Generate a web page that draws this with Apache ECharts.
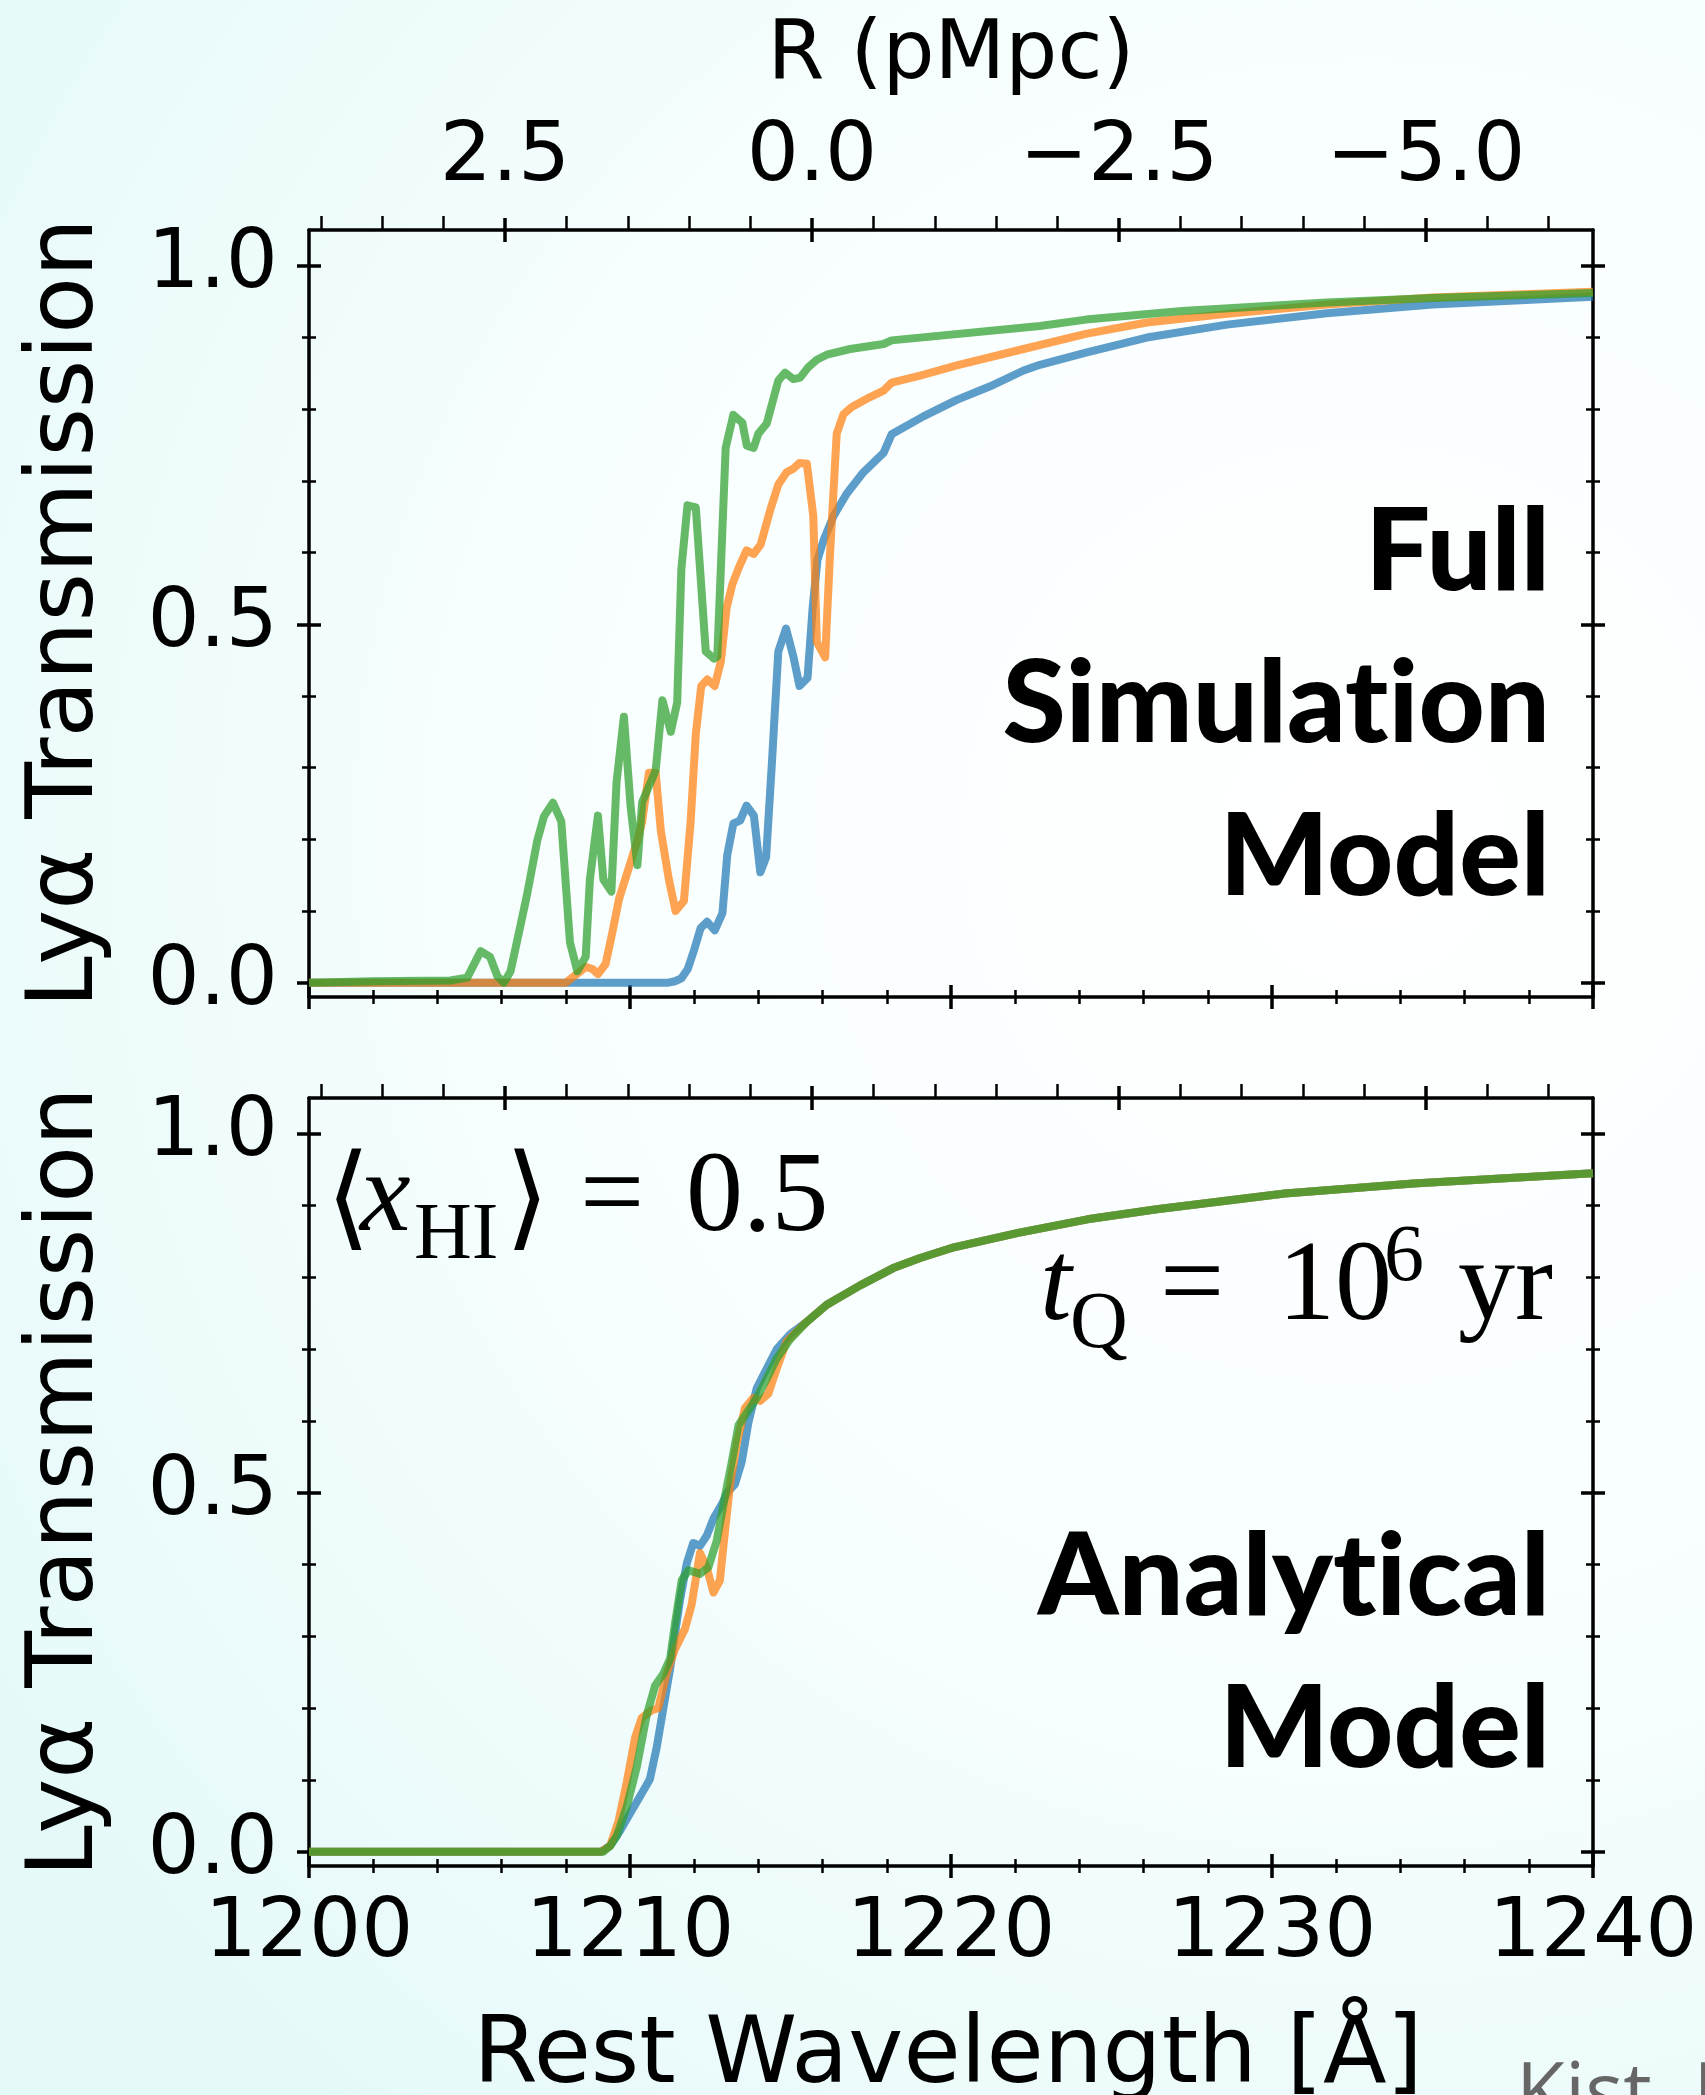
<!DOCTYPE html>
<html><head><meta charset="utf-8">
<script src="https://cdn.jsdelivr.net/npm/echarts@6/dist/echarts.min.js"></script>
<style>html,body{margin:0;padding:0;background:#fff}#c{width:1705px;height:2095px}</style>
</head><body><div id="c"></div>
<script>
// ---------------- DATA ----------------
const LYA_REST = 1215.67;        // Angstrom
const ANG_PER_PMPC = 3.825;      // Angstrom per pMpc (top axis conversion)

const lamTicks = [1200, 1210, 1220, 1230, 1240];
const lamMinor = [1202,1204,1206,1208,1212,1214,1216,1218,1222,1224,1226,1228,1232,1234,1236,1238];
const rTicks = [2.5, 0, -2.5, -5];
const rMinor = [4,3.5,3,2,1.5,1,0.5,-0.5,-1,-1.5,-2,-3,-3.5,-4,-4.5,-5.5,-6];
const tTicks = [0, 0.5, 1];
const tMinor = [0.1,0.2,0.3,0.4,0.6,0.7,0.8,0.9];

// Full simulation model (top panel)
const simBlueWl = [1200,1211.2,1211.4,1211.6,1211.8,1212.0,1212.2,1212.4,1212.64,1212.88,1213.03,1213.22,1213.43,1213.63,1213.86,1214.06,1214.24,1214.42,1214.62,1214.86,1215.09,1215.28,1215.53,1215.69,1215.84,1216.03,1216.34,1216.75,1217.27,1217.9,1218.15,1219.14,1220.18,1221.22,1222.26,1222.77,1224.2,1226.1,1228.6,1231.7,1235.0,1240];
const simBlueT  = [0,0,0.002,0.006,0.019,0.046,0.076,0.085,0.073,0.097,0.178,0.222,0.226,0.247,0.233,0.154,0.175,0.306,0.462,0.494,0.455,0.414,0.425,0.523,0.590,0.617,0.651,0.682,0.712,0.739,0.765,0.790,0.813,0.832,0.854,0.862,0.879,0.900,0.918,0.934,0.946,0.957];

const simOrangeWl = [1200,1208.0,1208.26,1208.62,1208.83,1209.0,1209.24,1209.45,1209.66,1209.92,1210.23,1210.38,1210.59,1210.80,1210.96,1211.21,1211.42,1211.68,1211.89,1212.05,1212.22,1212.41,1212.64,1212.83,1213.01,1213.19,1213.40,1213.63,1213.85,1214.07,1214.36,1214.62,1214.88,1215.09,1215.28,1215.51,1215.71,1215.82,1216.08,1216.23,1216.44,1216.65,1216.91,1217.48,1217.9,1218.15,1219.04,1220.18,1222.26,1224.2,1226.1,1228.6,1231.7,1235.0,1240];
const simOrangeT  = [0,0,0.009,0.022,0.019,0.012,0.026,0.070,0.117,0.154,0.198,0.225,0.293,0.293,0.212,0.144,0.100,0.114,0.225,0.347,0.414,0.423,0.414,0.448,0.523,0.556,0.580,0.603,0.598,0.611,0.658,0.695,0.712,0.717,0.725,0.724,0.651,0.475,0.454,0.597,0.766,0.793,0.803,0.817,0.826,0.837,0.847,0.861,0.884,0.905,0.921,0.933,0.946,0.956,0.964];

const simGreenWl = [1200,1202,1204.4,1204.93,1205.35,1205.64,1205.87,1206.07,1206.28,1206.54,1206.78,1207.11,1207.32,1207.60,1207.86,1208.13,1208.36,1208.62,1208.75,1209.0,1209.17,1209.42,1209.58,1209.81,1210.02,1210.23,1210.38,1210.80,1211.01,1211.27,1211.47,1211.60,1211.79,1212.05,1212.36,1212.62,1212.72,1212.98,1213.22,1213.50,1213.64,1213.85,1214.0,1214.26,1214.62,1214.83,1215.09,1215.30,1215.56,1215.82,1216.13,1216.86,1217.9,1218.15,1222.77,1224.2,1227.2,1231.7,1235.0,1240];
const simGreenT  = [0,0.002,0.003,0.007,0.044,0.036,0.009,0,0.016,0.070,0.120,0.198,0.232,0.251,0.225,0.056,0.016,0.036,0.144,0.233,0.144,0.127,0.279,0.371,0.245,0.164,0.252,0.296,0.394,0.350,0.391,0.577,0.666,0.663,0.462,0.452,0.455,0.746,0.792,0.781,0.749,0.746,0.766,0.780,0.840,0.851,0.842,0.844,0.859,0.869,0.876,0.884,0.891,0.896,0.916,0.925,0.937,0.949,0.955,0.962];

// Analytical model (bottom panel)
const anaBlueWl = [1200,1209.1,1209.38,1209.69,1210.0,1210.31,1210.62,1210.83,1211.04,1211.25,1211.40,1211.56,1211.77,1211.97,1212.18,1212.39,1212.6,1212.86,1213.06,1213.27,1213.48,1213.69,1213.95,1214.26,1214.57,1214.99];
const anaBlueT  = [0,0,0.008,0.029,0.053,0.077,0.101,0.145,0.200,0.255,0.303,0.351,0.402,0.430,0.426,0.440,0.464,0.484,0.502,0.512,0.543,0.598,0.646,0.673,0.700,0.721];

const anaOrangeWl = [1200,1209.1,1209.38,1209.64,1209.90,1210.16,1210.36,1210.67,1210.88,1211.14,1211.40,1211.71,1211.92,1212.18,1212.39,1212.6,1212.80,1212.96,1213.12,1213.33,1213.58,1213.84,1214.05,1214.31,1214.57,1214.88];
const anaOrangeT  = [0,0,0.008,0.042,0.097,0.159,0.186,0.197,0.200,0.248,0.282,0.310,0.344,0.416,0.396,0.361,0.378,0.447,0.512,0.570,0.618,0.632,0.628,0.638,0.673,0.711];

const anaGreenWl = [1200,1209.17,1209.38,1209.59,1209.90,1210.21,1210.52,1210.78,1211.04,1211.25,1211.40,1211.61,1211.82,1212.18,1212.44,1212.70,1212.96,1213.17,1213.38,1213.63,1213.95,1214.26,1214.57,1214.99];
const anaGreenT  = [0,0,0.008,0.022,0.063,0.118,0.190,0.231,0.248,0.269,0.317,0.378,0.392,0.387,0.396,0.433,0.495,0.543,0.594,0.611,0.632,0.659,0.687,0.714];

// shared red-side tail of the analytical model
const anaTailWl = [1215.5,1216.13,1217.17,1218.2,1219.04,1220.09,1222.09,1224.25,1226.41,1230.4,1234.4,1240];
const anaTailT  = [0.738,0.762,0.789,0.813,0.827,0.842,0.862,0.881,0.895,0.917,0.931,0.945];

const colors = { blue: '#1f77b4', orange: '#ff7f0e', green: '#2ca02c' };

// ---------------- CHART ----------------
const chart = echarts.init(document.getElementById('c'), null, {renderer: 'canvas', width: 1705, height: 2095});

const LAM_MIN = 1200, LAM_MAX = 1240, T_MIN = -0.02, T_MAX = 1.05;
const R_AT_MIN = (LYA_REST - LAM_MAX) / ANG_PER_PMPC;
const R_AT_MAX = (LYA_REST - LAM_MIN) / ANG_PER_PMPC;
const SANS = 'DejaVu Sans';
const fmt1 = v => { const s = Math.abs(v).toFixed(1); return v < 0 ? '\u2212' + s : s; };

const PANELS = [{top: 230, height: 767}, {top: 1098, height: 768}];
const grids = [], xAxes = [], yAxes = [], series = [];
const mainIdx = [];

function addLayer(p, kind) {
  const gi = grids.length;
  grids.push({left: 309, top: PANELS[p].top, width: 1284, height: PANELS[p].height});
  const main = kind === 'majIn';
  const major = kind.indexOf('maj') === 0;
  const inside = kind.slice(-2) === 'In';
  const len = major ? 12 : 7;
  const tw = major ? 3.5 : 2.5;
  const line = {show: main, onZero: false, lineStyle: {color: '#000', width: 3.5}};
  const tick = (vals, l) => ({show: vals.length > 0, inside: inside, length: l, customValues: vals,
                              lineStyle: {color: '#000', width: tw}});
  // bottom wavelength axis
  xAxes.push({type: 'value', gridIndex: gi, position: 'bottom', min: LAM_MIN, max: LAM_MAX,
    axisLine: line, splitLine: {show: false},
    axisTick: tick(major ? lamTicks : lamMinor, len),
    axisLabel: {show: main && p === 1, customValues: lamTicks, margin: 28,
      fontFamily: SANS, fontSize: 82, color: '#000', formatter: v => String(v)}});
  // top R axis (pMpc)
  let rVals = major ? rTicks : (inside ? [] : rMinor);
  xAxes.push({type: 'value', gridIndex: gi, position: 'top', min: R_AT_MIN, max: R_AT_MAX, inverse: true,
    axisLine: line, splitLine: {show: false},
    axisTick: tick(rVals, major ? 12 : 14),
    axisLabel: {show: main && p === 0, customValues: rTicks, margin: 30,
      fontFamily: SANS, fontSize: 82, color: '#000', formatter: fmt1}});
  // left & right transmission axes
  ['left', 'right'].forEach(pos => {
    yAxes.push({type: 'value', gridIndex: gi, position: pos, min: T_MIN, max: T_MAX,
      axisLine: line, splitLine: {show: false},
      axisTick: tick(major ? tTicks : tMinor, len),
      axisLabel: {show: main && pos === 'left', customValues: tTicks, margin: 31,
        fontFamily: SANS, fontSize: 82, color: '#000', formatter: fmt1}});
  });
  if (main) mainIdx[p] = {x: xAxes.length - 2, y: yAxes.length - 2};
}

[0, 1].forEach(p => ['majOut', 'minIn', 'minOut', 'majIn'].forEach(k => addLayer(p, k)));

const pairs = (xs, ys) => xs.map((x, i) => [x, ys[i]]);
function addLine(p, xs, ys, color) {
  series.push({type: 'line', xAxisIndex: mainIdx[p].x, yAxisIndex: mainIdx[p].y,
    data: pairs(xs, ys), showSymbol: false, symbol: 'none', silent: true, animation: false,
    lineStyle: {color: color, width: 8, opacity: 0.72, join: 'round', cap: 'butt'},
    emphasis: {disabled: true}, z: 3});
}
addLine(0, simBlueWl, simBlueT, colors.blue);
addLine(0, simOrangeWl, simOrangeT, colors.orange);
addLine(0, simGreenWl, simGreenT, colors.green);
addLine(1, anaBlueWl.concat(anaTailWl), anaBlueT.concat(anaTailT), colors.blue);
addLine(1, anaOrangeWl.concat(anaTailWl), anaOrangeT.concat(anaTailT), colors.orange);
addLine(1, anaGreenWl.concat(anaTailWl), anaGreenT.concat(anaTailT), colors.green);

// ---------------- TEXT ----------------
function T(text, x, y, o) {
  o = o || {};
  return {type: 'text', x: x, y: y, rotation: o.rot || 0, silent: true, z: 10,
    style: {text: text, fill: o.color || '#000', fontFamily: o.family || SANS, fontSize: o.size || 82,
      fontWeight: o.weight || 'normal', fontStyle: o.style || 'normal',
      textAlign: o.align || 'left', align: o.align || 'left',
      textVerticalAlign: 'middle', verticalAlign: 'middle'}};
}
const SERIF = 'Liberation Serif';
const BOLD = {family: 'Lato', size: 115, weight: 900, align: 'right'};
const graphics = [
  T('R (pMpc)', 951, 57, {size: 82, align: 'center'}),
  T('Rest Wavelength [\u00c5]', 948, 2058, {size: 93, align: 'center'}),
  T('Ly\u03b1 Transmission', 68, 613, {size: 93, align: 'center', rot: Math.PI / 2}),
  T('Ly\u03b1 Transmission', 68, 1482, {size: 93, align: 'center', rot: Math.PI / 2}),
  T('Full', 1550, 553, BOLD),
  T('Simulat\u200cion', 1550, 705, BOLD),
  T('Model', 1550, 858, BOLD),
  T('Analyt\u200cical', 1550, 1578, BOLD),
  T('Model', 1550, 1730, BOLD),
  // <x_HI> = 0.5
  T('\u27e8', 326, 1205, {family: SERIF, size: 114}),
  T('x', 360, 1200, {family: SERIF, size: 114, style: 'italic'}),
  T('HI', 414, 1237, {family: SERIF, size: 80}),
  T('\u27e9', 505, 1205, {family: SERIF, size: 114}),
  T('=', 580, 1200, {family: SERIF, size: 114}),
  T('0.5', 686, 1200, {family: SERIF, size: 114}),
  // t_Q = 10^6 yr
  T('t', 1040, 1289, {family: SERIF, size: 114, style: 'italic'}),
  T('Q', 1070, 1326, {family: SERIF, size: 80}),
  T('=', 1160, 1289, {family: SERIF, size: 114}),
  T('10', 1278, 1289, {family: SERIF, size: 114}),
  T('6', 1384, 1259, {family: SERIF, size: 80}),
  T('yr', 1458, 1289, {family: SERIF, size: 114}),
  // credit (cut off at the bottom edge)
  T('Kist, Hennawi et al.', 1516, 2097, {family: 'Open Sans', size: 80, color: '#666666'})
];

chart.setOption({
  animation: false,
  backgroundColor: {type: 'radial', x: 0.8, y: 0.4, r: 0.95,
    colorStops: [{offset: 0, color: '#ffffff'}, {offset: 0.5, color: '#f8fefe'}, {offset: 1, color: '#e6f9f9'}]},
  grid: grids, xAxis: xAxes, yAxis: yAxes, series: series, graphic: graphics
});
</script>
</body></html>
